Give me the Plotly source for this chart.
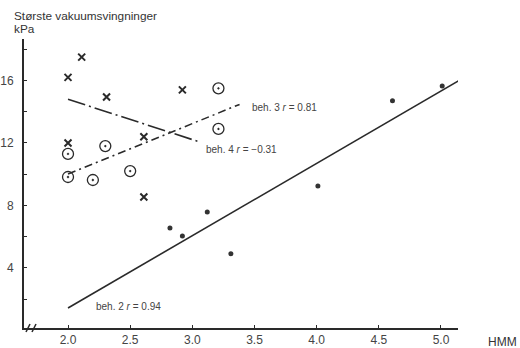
import numpy as np
import plotly.graph_objects as go

# ---- data ----
beh2_x = [2.82, 2.92, 3.12, 3.31, 4.01, 4.61, 5.01]
beh2_y = [6.55, 6.04, 7.58, 4.90, 9.25, 14.70, 15.65]

beh3_x = [2.00, 2.00, 2.20, 2.30, 2.50, 3.21, 3.21]
beh3_y = [11.30, 9.82, 9.63, 11.80, 10.20, 15.50, 12.90]

beh4_x = [2.00, 2.11, 2.31, 2.00, 2.61, 2.92, 2.61]
beh4_y = [16.20, 17.50, 14.95, 12.00, 12.40, 15.40, 8.54]

# x-extent of each drawn regression line
fit2_range = [2.0, 5.14]
fit3_range = [2.0, 3.38]
fit4_range = [2.0, 3.06]

x_ticks = [2.0, 2.5, 3.0, 3.5, 4.0, 4.5, 5.0]
x_ticktext = ["2.0", "2.5", "3.0", "3.5", "4.0", "4.5", "5.0"]
y_ticks = [2, 4, 6, 8, 10, 12, 14, 16, 18]
y_ticktext = ["", "4", "", "8", "", "12", "", "16", ""]

labels = ["beh. 2 <i>r</i> = 0.94", "beh. 3 <i>r</i> = 0.81", "beh. 4 <i>r</i> = \u22120.31"]
label_x = [2.21, 3.46, 3.09]
label_y = [1.5, 14.3, 11.6]

title_line1 = "Største vakuumsvingninger"
title_line2 = "kPa"
x_title = "HMM"

INK = "#2a2a2a"
FONT = "Liberation Sans"


def fit_line(xs, ys, xr):
    k, m = np.polyfit(xs, ys, 1)
    xr = np.array(xr)
    return xr, k * xr + m


fig = go.Figure()

for xs, ys, xr, dash in [
    (beh2_x, beh2_y, fit2_range, "solid"),
    (beh3_x, beh3_y, fit3_range, "8px,4px,2px,4px"),
    (beh4_x, beh4_y, fit4_range, "18px,4px,2px,4px"),
]:
    lx, ly = fit_line(xs, ys, xr)
    fig.add_trace(go.Scatter(x=lx, y=ly, mode="lines",
                             line=dict(color=INK, width=1.6, dash=dash),
                             showlegend=False, hoverinfo="skip"))

fig.add_trace(go.Scatter(x=beh2_x, y=beh2_y, mode="markers",
                         marker=dict(symbol="circle", size=5, color="#333"),
                         showlegend=False))
fig.add_trace(go.Scatter(x=beh3_x, y=beh3_y, mode="markers",
                         marker=dict(symbol="circle-open-dot", size=11, color=INK,
                                     line=dict(width=1.3, color=INK)),
                         showlegend=False))
fig.add_trace(go.Scatter(x=beh4_x, y=beh4_y, mode="markers",
                         marker=dict(symbol="x-thin", size=7, color=INK,
                                     line=dict(width=2, color=INK)),
                         showlegend=False))

for t, lx, ly in zip(labels, label_x, label_y):
    fig.add_annotation(x=lx, y=ly, text=t, showarrow=False, xanchor="left",
                       yanchor="middle", font=dict(family=FONT, size=10, color="#444"))

# axis titles
fig.add_annotation(xref="paper", yref="paper", x=-0.028, y=1.0795, text=title_line1,
                   showarrow=False, xanchor="left", yanchor="middle",
                   font=dict(family=FONT, size=11.8, color="#333"))
fig.add_annotation(xref="paper", yref="paper", x=-0.028, y=1.033, text=title_line2,
                   showarrow=False, xanchor="left", yanchor="middle",
                   font=dict(family=FONT, size=11.8, color="#333"))
fig.add_annotation(xref="paper", yref="paper", x=1.0645, y=-0.048, text=x_title,
                   showarrow=False, xanchor="left", yanchor="middle",
                   font=dict(family=FONT, size=12, color="#333"))

# axis break marks "//"
for px in [(26, 30), (32, 36)]:
    fig.add_shape(type="line", xref="paper", yref="paper",
                  x0=(px[0] - 24) / 434, y0=(328 - 332) / 289,
                  x1=(px[1] - 24) / 434, y1=(328 - 324) / 289,
                  line=dict(color=INK, width=1.5))

fig.update_xaxes(range=[1.646, 5.137], tickvals=x_ticks, ticktext=x_ticktext,
                 automargin=False,
                 showgrid=False, zeroline=False, showline=True, linecolor=INK,
                 linewidth=1.8, ticks="inside", ticklen=3, tickcolor=INK,
                 tickfont=dict(family=FONT, size=12, color="#444"))
fig.update_yaxes(range=[0.15, 18.66], tickvals=y_ticks, ticktext=y_ticktext,
                 automargin=False,
                 showgrid=False, zeroline=False, showline=True, linecolor=INK,
                 linewidth=1.8, ticks="inside", ticklen=3, tickcolor=INK,
                 ticklabelstandoff=6,
                 tickfont=dict(family=FONT, size=12, color="#444"))

fig.update_layout(width=520, height=348, margin=dict(l=24, r=62, t=39, b=20),
                  paper_bgcolor="white", plot_bgcolor="white")

fig.write_html("out.html", config={"displayModeBar": False},
               post_script="document.body.style.margin='0';document.body.style.overflow='hidden';")
